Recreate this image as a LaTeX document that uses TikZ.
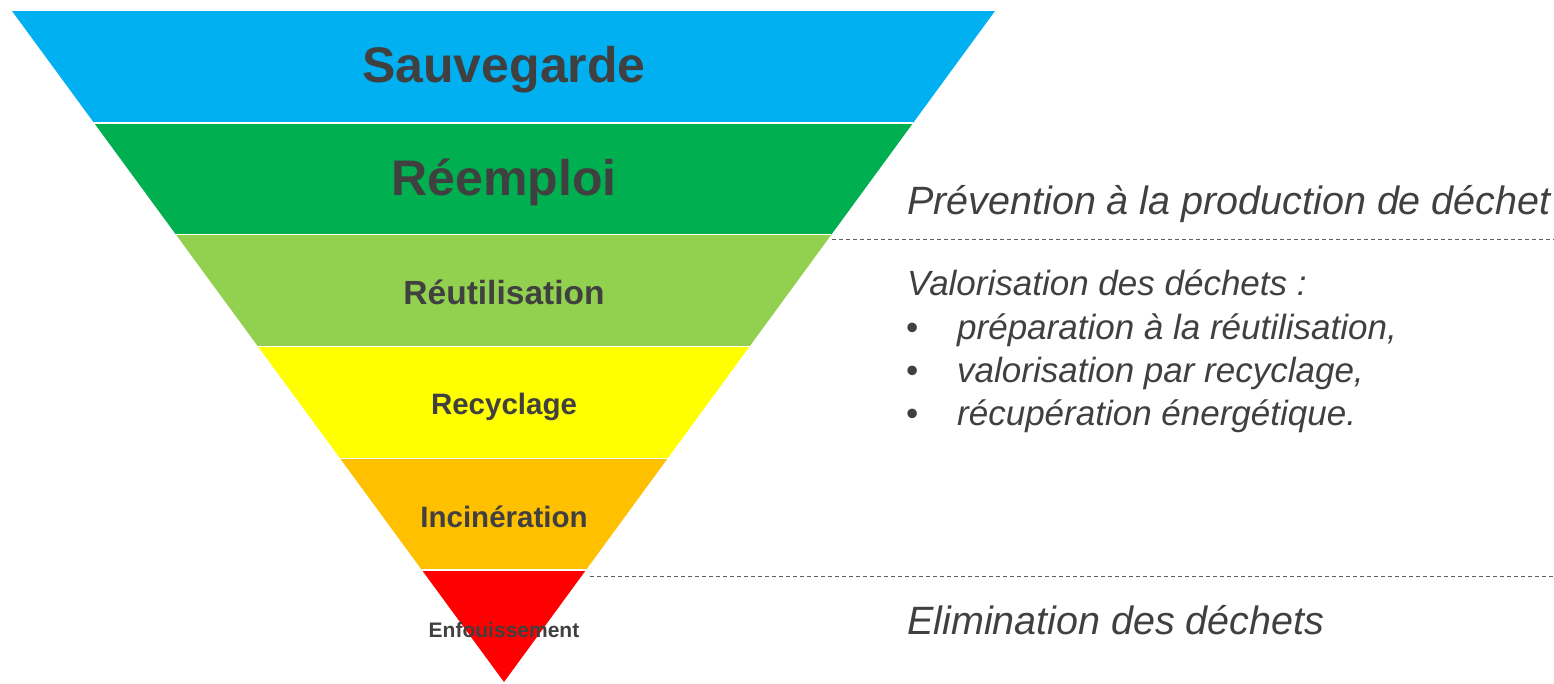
\documentclass[tikz,border=0pt]{standalone}
\usepackage{fontspec}
\setmainfont{Liberation Sans}
\usetikzlibrary{calc}
\definecolor{cblue}{HTML}{00B0F0}
\definecolor{cdgreen}{HTML}{00B050}
\definecolor{clgreen}{HTML}{92D050}
\definecolor{cyellow}{HTML}{FFFF00}
\definecolor{corange}{HTML}{FFC000}
\definecolor{cred}{HTML}{FF0000}
\definecolor{ctext}{HTML}{404040}
\definecolor{cdash}{HTML}{606060}
\tikzset{
  lvl/.style={text=ctext, font=\bfseries, inner sep=0pt},
  side/.style={text=ctext, font=\itshape, inner sep=0pt, anchor=base west},
  sep/.style={draw=cdash, line width=1pt, dash pattern=on 4pt off 3pt},
}
\begin{document}
\begin{tikzpicture}[x=1pt,y=-1pt]
\useasboundingbox (0,0) rectangle (1554,683);
\coordinate (tl) at (12,11);
\coordinate (tr) at (995,11);
\coordinate (ap) at (504,682);
\foreach \k in {0,...,6}{
  \coordinate (l\k) at ($(tl)!\k/6!(ap)$);
  \coordinate (r\k) at ($(tr)!\k/6!(ap)$);
}
\fill[cblue]   (l0) -- (r0) -- (r1) -- (l1) -- cycle;
\fill[cdgreen] (l1) -- (r1) -- (r2) -- (l2) -- cycle;
\fill[clgreen] (l2) -- (r2) -- (r3) -- (l3) -- cycle;
\fill[cyellow] (l3) -- (r3) -- (r4) -- (l4) -- cycle;
\fill[corange] (l4) -- (r4) -- (r5) -- (l5) -- cycle;
\fill[cred]    (l5) -- (r5) -- (ap) -- cycle;
\foreach \k in {1,...,5}{
  \draw[draw=white, line width=1.6pt] (l\k) -- (r\k);
}
\node[lvl, font=\fontsize{50}{60}\selectfont\bfseries] (sauv) at (504,70) {Sauvegarde};
\node[lvl, font=\fontsize{50}{60}\selectfont\bfseries] (reem) at (504,182) {Réemploi};
\node[lvl, font=\fontsize{33.5}{40}\selectfont\bfseries] (reut) at (504,292) {Réutilisation};
\node[lvl, font=\fontsize{29.5}{36}\selectfont\bfseries] (recy) at (504,407) {Recyclage};
\node[lvl, font=\fontsize{29.5}{36}\selectfont\bfseries] (inci) at (504,517) {Incinération};
\node[lvl, font=\fontsize{21}{26}\selectfont\bfseries] (enfo) at (504,630) {Enfouissement};
\coordinate (d1s) at (832,239);
\coordinate (d1e) at (1554,239);
\coordinate (d2s) at (590,576);
\coordinate (d2e) at (1554,576);
\draw[sep] (d1s) -- (d1e);
\draw[sep] (d2s) -- (d2e);
\node[side, font=\fontsize{39.5}{46}\selectfont\itshape] (prev) at (907,214) {Prévention à la production de déchet};
\node[side, font=\fontsize{35}{42}\selectfont\itshape] (valo) at (907,295) {Valorisation des déchets :};
\node[side, font=\fontsize{35}{42}\selectfont] (b1) at (906,339) {•};
\node[side, font=\fontsize{35}{42}\selectfont] (b2) at (906,382) {•};
\node[side, font=\fontsize{35}{42}\selectfont] (b3) at (906,425) {•};
\node[side, font=\fontsize{35}{42}\selectfont\itshape] (t1) at (957,339) {préparation à la réutilisation,};
\node[side, font=\fontsize{35}{42}\selectfont\itshape] (t2) at (957,382) {valorisation par recyclage,};
\node[side, font=\fontsize{35}{42}\selectfont\itshape] (t3) at (957,425) {récupération énergétique.};
\node[side, font=\fontsize{39.5}{46}\selectfont\itshape] (elim) at (907,634) {Elimination des déchets};
\end{tikzpicture}
\end{document}
